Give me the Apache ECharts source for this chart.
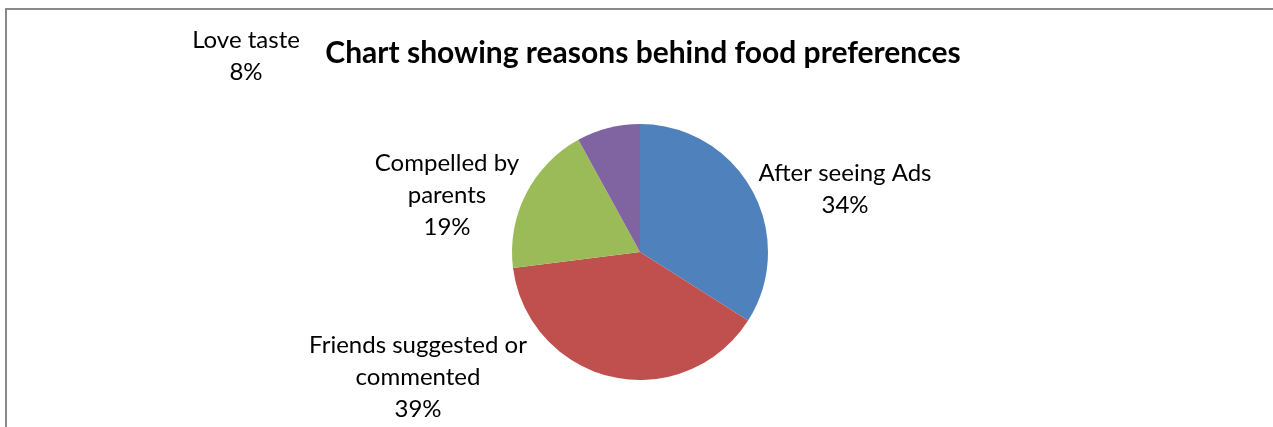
<!DOCTYPE html>
<html>
<head>
<meta charset="utf-8">
<script src="https://cdn.jsdelivr.net/npm/echarts@6/dist/echarts.min.js"></script>
<style>
  html, body { margin: 0; padding: 0; background: #fff; }
  #frame { position: absolute; left: 5px; top: 8px; width: 1268px; height: 419px;
           border-left: 2px solid #8a8a8a; border-top: 2px solid #8a8a8a; }
  #chart { position: absolute; left: 0; top: 0; width: 1273px; height: 427px; }
</style>
</head>
<body>
<div id="frame"></div>
<div id="chart"></div>
<script>
  const titleText = 'Chart showing reasons behind food preferences';
  const categories = ['After seeing Ads', 'Friends suggested or\ncommented', 'Compelled by\nparents', 'Love taste'];
  const shares = [34, 39, 19, 8];
  const colors = ['#4F81BD', '#C0504D', '#9BBB59', '#8064A2'];
  // where Excel parked each data label (centre of the text block)
  const labelSpots = [[845, 189], [418, 377], [447, 195], [246, 56]];

  const chart = echarts.init(document.getElementById('chart'), null, { renderer: 'canvas' });
  const font = 'Lato, "Open Sans", sans-serif';

  chart.setOption({
    animation: false,
    title: {
      text: titleText,
      left: 638, top: 33,
      textAlign: 'center',
      textStyle: { fontFamily: font, fontSize: 30, fontWeight: 'bold', color: '#000' }
    },
    series: [{
      type: 'pie',
      center: [640, 252],
      radius: 128,
      startAngle: 90,
      clockwise: true,
      data: categories.map((name, i) => ({ name, value: shares[i], itemStyle: { color: colors[i] } })),
      label: {
        show: true,
        position: 'outside',
        formatter: p => p.name + '\n' + p.value + '%',
        fontFamily: font,
        fontSize: 24,
        lineHeight: 32,
        color: '#000',
        align: 'center'
      },
      labelLine: { show: false },
      labelLayout: p => ({
        x: labelSpots[p.dataIndex][0],
        y: labelSpots[p.dataIndex][1],
        align: 'center',
        verticalAlign: 'middle'
      }),
      emphasis: { disabled: true }
    }]
  });
</script>
</body>
</html>
